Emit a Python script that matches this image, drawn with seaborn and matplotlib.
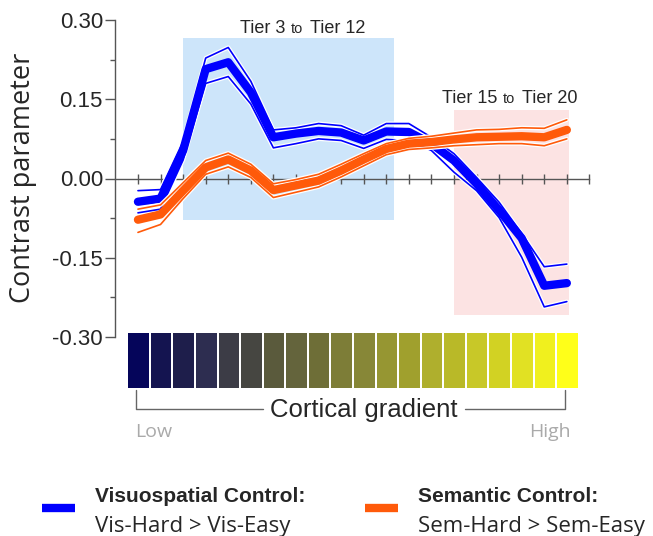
# Contrast parameter along the cortical gradient (20 tiers)
import seaborn as sns
import matplotlib.pyplot as plt
from matplotlib import patheffects as pe
from matplotlib.lines import Line2D

# data
tiers = list(range(1, 21))
vis_mean = [-0.044, -0.038, 0.053, 0.207, 0.220, 0.163, 0.078, 0.085, 0.090, 0.087,
            0.072, 0.089, 0.088, 0.066, 0.034, -0.010, -0.060, -0.113, -0.203, -0.198]
vis_upper = [-0.023, -0.021, 0.070, 0.228, 0.248, 0.184, 0.092, 0.096, 0.104, 0.100,
             0.082, 0.104, 0.104, 0.078, 0.047, 0.002, -0.045, -0.104, -0.167, -0.162]
vis_lower = [-0.065, -0.058, 0.035, 0.180, 0.193, 0.141, 0.058, 0.066, 0.075, 0.072,
             0.057, 0.074, 0.072, 0.053, 0.012, -0.023, -0.074, -0.149, -0.243, -0.233]
sem_mean = [-0.078, -0.068, -0.023, 0.021, 0.036, 0.015, -0.022, -0.013, -0.004, 0.015,
            0.036, 0.056, 0.066, 0.069, 0.074, 0.078, 0.079, 0.080, 0.078, 0.092]
sem_upper = [-0.058, -0.050, -0.008, 0.034, 0.048, 0.027, -0.010, -0.002, 0.008, 0.027,
             0.047, 0.066, 0.076, 0.080, 0.086, 0.092, 0.093, 0.096, 0.095, 0.111]
sem_lower = [-0.102, -0.087, -0.038, 0.008, 0.022, 0.002, -0.036, -0.026, -0.016, 0.003,
             0.024, 0.045, 0.055, 0.058, 0.062, 0.064, 0.066, 0.066, 0.062, 0.075]
y_ticks = [-0.30, -0.15, 0.00, 0.15, 0.30]
y_labels = ["-0.30", "-0.15", "0.00", "0.15", "0.30"]
gradient_colors = ["#05055a", "#141450", "#1e1e4b", "#2d2d50", "#3c3c46", "#464641",
                   "#5a5a3c", "#64643c", "#6e6e37", "#7d7d37", "#878737", "#969632",
                   "#a0a02d", "#afaf2d", "#b9b928", "#c8c828", "#d2d223", "#e1e123",
                   "#f0f01e", "#ffff19"]

BLUE = "#0000ff"
ORANGE = "#ff5a0a"

sns.set_theme(style="ticks")
plt.rcParams['font.family'] = ['Liberation Sans', 'DejaVu Sans']
soft = ["Open Sans", "DejaVu Sans"]

W, H = 653, 536
fig = plt.figure(figsize=(W / 100, H / 100), dpi=100)


def box(x0, y0, x1, y1):
    # pixel box (from top-left) to figure fraction rect
    return [x0 / W, 1 - y1 / H, (x1 - x0) / W, (y1 - y0) / H]


def fx(x):
    return x / W


def fy(y):
    return 1 - y / H


ax = fig.add_axes(box(115.4, 20, 589.4, 337))

# highlighted tier ranges
ax.fill_between([3, 12.35], -0.079, 0.266, color="#cde5fa", lw=0, zorder=0)
ax.fill_between([15, 20.1], -0.258, 0.130, color="#fce3e3", lw=0, zorder=0)

white_edge = [pe.withStroke(linewidth=3, foreground="white")]
for vals in (vis_upper, vis_lower):
    sns.lineplot(x=tiers, y=vals, color=BLUE, lw=1.2, ax=ax, zorder=3,
                 path_effects=white_edge)
sns.lineplot(x=tiers, y=vis_mean, color=BLUE, lw=6, ax=ax, zorder=3)
for vals in (sem_upper, sem_lower):
    sns.lineplot(x=tiers, y=vals, color=ORANGE, lw=1.2, ax=ax, zorder=4,
                 path_effects=white_edge)
sns.lineplot(x=tiers, y=sem_mean, color=ORANGE, lw=6, ax=ax, zorder=4)

ax.set_xlim(0, 21)
ax.set_ylim(-0.30, 0.30)
ax.set_yticks(y_ticks)
ax.set_yticklabels(y_labels, fontsize=16)
ax.set_yticks([-0.225, -0.075, 0.075, 0.225], minor=True)
ax.set_xticks(range(1, 22))
ax.tick_params(axis="x", direction="inout", length=7, width=1, color="#555555",
               labelbottom=False)
ax.tick_params(axis="y", which="major", direction="out", length=7, width=1,
               color="#555555", pad=2)
ax.tick_params(axis="y", which="minor", direction="out", length=3.5, width=1,
               color="#555555")
ax.spines["bottom"].set_position(("data", 0))
for s in ("bottom", "left"):
    ax.spines[s].set_color("#555555")
    ax.spines[s].set_linewidth(1)
ax.spines["top"].set_visible(False)
ax.spines["right"].set_visible(False)
ax.set_xlabel("")
ax.set_ylabel("")
ax.patch.set_alpha(0)

fig.text(fx(23), fy(178), "Contrast parameter", rotation=90, ha="center",
         va="center", fontsize=19.5, family=soft)

# region labels ("to" is set smaller)
fig.text(fx(240), fy(33), "Tier 3", fontsize=13)
fig.text(fx(291), fy(33), "to", fontsize=10.5)
fig.text(fx(310), fy(33), "Tier 12", fontsize=13)
fig.text(fx(442), fy(103), "Tier 15", fontsize=13)
fig.text(fx(503), fy(103), "to", fontsize=10.5)
fig.text(fx(522), fy(103), "Tier 20", fontsize=13)

# cortical gradient colour strip
ax2 = fig.add_axes(box(127.3, 333, 578.7, 388))
ax2.bar(tiers, [1] * len(tiers), width=0.91, color=gradient_colors, lw=0)
ax2.set_xlim(0.5, 20.5)
ax2.set_ylim(0, 1)
ax2.axis("off")

bracket_kw = dict(transform=fig.transFigure, color="#666666", lw=1)
fig.add_artist(Line2D([fx(136), fx(136), fx(263)], [fy(390), fy(409), fy(409)], **bracket_kw))
fig.add_artist(Line2D([fx(465), fx(565), fx(565)], [fy(409), fy(409), fy(390)], **bracket_kw))
fig.text(fx(364), fy(410), "Cortical gradient", ha="center", va="center", fontsize=18.5)
fig.text(fx(135), fy(437), "Low", color="#aaaaaa", fontsize=14, family=soft)
fig.text(fx(571), fy(437), "High", color="#aaaaaa", ha="right", fontsize=14, family=soft)

# legend
leg_kw = dict(transform=fig.transFigure, lw=6, solid_capstyle="butt")
fig.add_artist(Line2D([fx(42), fx(75)], [fy(507.5), fy(507.5)], color=BLUE, **leg_kw))
fig.add_artist(Line2D([fx(365), fx(398)], [fy(507.5), fy(507.5)], color=ORANGE, **leg_kw))
fig.text(fx(95), fy(502), "Visuospatial Control:", fontsize=15, fontweight="bold")
fig.text(fx(418), fy(502), "Semantic Control:", fontsize=15, fontweight="bold")
fig.text(fx(95), fy(532), "Vis-Hard > Vis-Easy", fontsize=16, family=soft)
fig.text(fx(418), fy(532), "Sem-Hard > Sem-Easy", fontsize=16, family=soft)

fig.savefig("out.png", dpi=100)
